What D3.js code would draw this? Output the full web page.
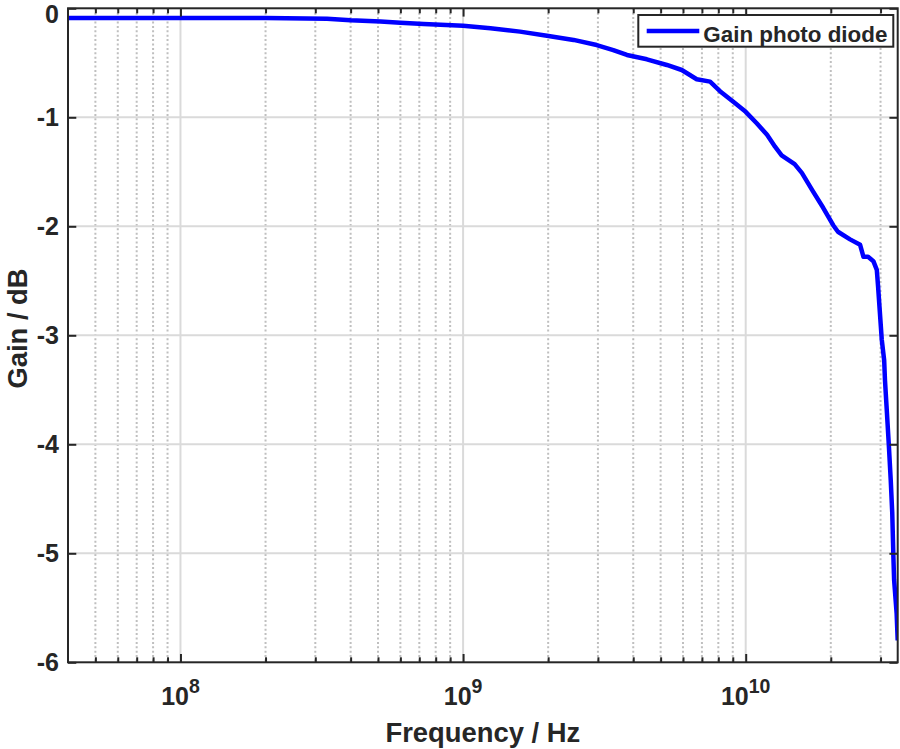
<!DOCTYPE html>
<html>
<head>
<meta charset="utf-8">
<script src="https://cdn.jsdelivr.net/npm/d3@7"></script>
<style>
  body { margin: 0; background: #fff; }
  svg { display: block; }
  text { font-family: "Liberation Sans", Arial, Helvetica, sans-serif; font-weight: bold; fill: #262626; }
</style>
</head>
<body>
<svg id="chart" width="900" height="749"></svg>
<script>
// Measured frequency response of the photo diode
const frequencyHz = [
  4.0e7, 1.0e8, 2.0e8, 3.3e8, 4.0e8, 5.1e8, 6.0e8, 7.25e8, 1.0e9, 1.25e9,
  1.59e9, 1.98e9, 2.46e9, 2.97e9, 3.4e9, 3.8e9, 4.47e9, 5.26e9, 5.94e9, 6.71e9,
  7.48e9, 8.11e9, 9.04e9, 1.0e10, 1.094e10, 1.19e10, 1.27e10, 1.34e10, 1.49e10, 1.58e10,
  1.73e10, 1.88e10, 2.04e10, 2.12e10, 2.34e10, 2.54e10, 2.61e10, 2.71e10, 2.83e10, 2.91e10,
  2.94e10, 2.98e10, 3.03e10, 3.09e10, 3.11e10, 3.15e10, 3.21e10, 3.26e10, 3.30e10, 3.33e10,
  3.35e10, 3.42e10, 3.45e10
];
const gainDb = [
  -0.09, -0.09, -0.09, -0.095, -0.11, -0.12, -0.132, -0.144, -0.16, -0.184,
  -0.214, -0.251, -0.29, -0.337, -0.383, -0.428, -0.468, -0.52, -0.566, -0.651,
  -0.673, -0.76, -0.857, -0.95, -1.055, -1.16, -1.27, -1.35, -1.43, -1.51,
  -1.68, -1.83, -1.99, -2.05, -2.12, -2.17, -2.28, -2.28, -2.32, -2.40,
  -2.55, -2.77, -3.04, -3.23, -3.41, -3.65, -4.01, -4.33, -4.63, -5.02,
  -5.24, -5.55, -5.8
];
const seriesName = "Gain photo diode";

// Axis settings
const xDomain = [4.0e7, 3.45e10];
const yDomain = [-6, 0];
const xMajorTicks = [1e8, 1e9, 1e10];
const xMajorExponents = ["8", "9", "10"];
const xMinorTicks = [
  5e7, 6e7, 7e7, 8e7, 9e7,
  2e8, 3e8, 4e8, 5e8, 6e8, 7e8, 8e8, 9e8,
  2e9, 3e9, 4e9, 5e9, 6e9, 7e9, 8e9, 9e9,
  2e10, 3e10
];
const yTicks = [0, -1, -2, -3, -4, -5, -6];
const yTickLabels = ["0", "-1", "-2", "-3", "-4", "-5", "-6"];
const xTitle = "Frequency / Hz";
const yTitle = "Gain / dB";

// Plot box
const L = 68, R = 897.7, T = 8.3, B = 662.3;
const INK = "#262626";

const svg = d3.select("#chart");
const x = d3.scaleLog().domain(xDomain).range([L, R]);
const y = d3.scaleLinear().domain(yDomain).range([B, T]);

// Grid: dotted minor verticals, solid major lines
const grid = svg.append("g");
grid.selectAll("line.minor").data(xMinorTicks).join("line")
  .attr("class", "minor")
  .attr("x1", d => x(d)).attr("x2", d => x(d))
  .attr("y1", T).attr("y2", B)
  .attr("stroke", "#bfbfbf").attr("stroke-width", 2)
  .attr("stroke-dasharray", "2,2.4");
grid.selectAll("line.xmajor").data(xMajorTicks).join("line")
  .attr("class", "xmajor")
  .attr("x1", d => x(d)).attr("x2", d => x(d))
  .attr("y1", T).attr("y2", B)
  .attr("stroke", "#dadada").attr("stroke-width", 2);
grid.selectAll("line.ymajor").data(yTicks.slice(1, -1)).join("line")
  .attr("class", "ymajor")
  .attr("x1", L).attr("x2", R)
  .attr("y1", d => y(d)).attr("y2", d => y(d))
  .attr("stroke", "#dadada").attr("stroke-width", 2);

// Data line, clipped to the plot box
svg.append("clipPath").attr("id", "plotClip")
  .append("rect").attr("x", L).attr("y", T).attr("width", R - L).attr("height", B - T);
const points = frequencyHz.map((f, i) => [f, gainDb[i]]);
svg.append("path")
  .datum(points)
  .attr("clip-path", "url(#plotClip)")
  .attr("fill", "none")
  .attr("stroke", "#0000ff")
  .attr("stroke-width", 4.5)
  .attr("stroke-linejoin", "round")
  .attr("d", d3.line().x(d => x(d[0])).y(d => y(d[1])));

// Inward ticks on all four sides
const MAJ = 8.3, MIN = 5;
function styleAxis(g) {
  g.select(".domain").remove();
  g.selectAll(".tick line").attr("stroke", INK).attr("stroke-width", 2);
  g.selectAll(".tick text").remove();
}
svg.append("g").attr("transform", `translate(0,${B})`)
  .call(d3.axisBottom(x).tickValues(xMajorTicks).tickSize(-MAJ)).call(styleAxis);
svg.append("g").attr("transform", `translate(0,${B})`)
  .call(d3.axisBottom(x).tickValues(xMinorTicks).tickSize(-MIN)).call(styleAxis);
svg.append("g").attr("transform", `translate(0,${T})`)
  .call(d3.axisTop(x).tickValues(xMajorTicks).tickSize(-MAJ)).call(styleAxis);
svg.append("g").attr("transform", `translate(0,${T})`)
  .call(d3.axisTop(x).tickValues(xMinorTicks).tickSize(-MIN)).call(styleAxis);
svg.append("g").attr("transform", `translate(${L},0)`)
  .call(d3.axisLeft(y).tickValues(yTicks).tickSize(-MAJ)).call(styleAxis);
svg.append("g").attr("transform", `translate(${R},0)`)
  .call(d3.axisRight(y).tickValues(yTicks).tickSize(-MAJ)).call(styleAxis);

// Frame
svg.append("rect")
  .attr("x", L).attr("y", T).attr("width", R - L).attr("height", B - T)
  .attr("fill", "none").attr("stroke", INK).attr("stroke-width", 2);

// Tick labels (the top label is nudged down so it stays inside the page)
svg.append("g").selectAll("text").data(yTicks).join("text")
  .attr("x", 59).attr("y", d => Math.max(y(d) + 9, 23))
  .attr("text-anchor", "end")
  .style("font-size", "25px")
  .text((d, i) => yTickLabels[i]);

const xl = svg.append("g").selectAll("text").data(xMajorTicks).join("text")
  .attr("x", d => x(d)).attr("y", 705)
  .attr("text-anchor", "middle")
  .style("font-size", "25px");
xl.append("tspan").text("10");
xl.append("tspan").attr("dy", -12).style("font-size", "19.5px")
  .text((d, i) => xMajorExponents[i]);

// Axis titles
svg.append("text")
  .attr("x", (L + R) / 2).attr("y", 741.7)
  .attr("text-anchor", "middle")
  .style("font-size", "27.4px")
  .text(xTitle);
svg.append("text")
  .attr("transform", "translate(27,328.5) rotate(-90)")
  .attr("text-anchor", "middle")
  .style("font-size", "27.4px")
  .text(yTitle);

// Legend
const lg = svg.append("g");
lg.append("rect")
  .attr("x", 638.3).attr("y", 15).attr("width", 255).attr("height", 31.7)
  .attr("fill", "#fff").attr("stroke", INK).attr("stroke-width", 2);
lg.append("line")
  .attr("x1", 646.7).attr("x2", 699.3).attr("y1", 31).attr("y2", 31)
  .attr("stroke", "#0000ff").attr("stroke-width", 4.5);
lg.append("text")
  .attr("x", 703.3).attr("y", 41.7)
  .style("font-size", "22.4px")
  .text(seriesName);
</script>
</body>
</html>
